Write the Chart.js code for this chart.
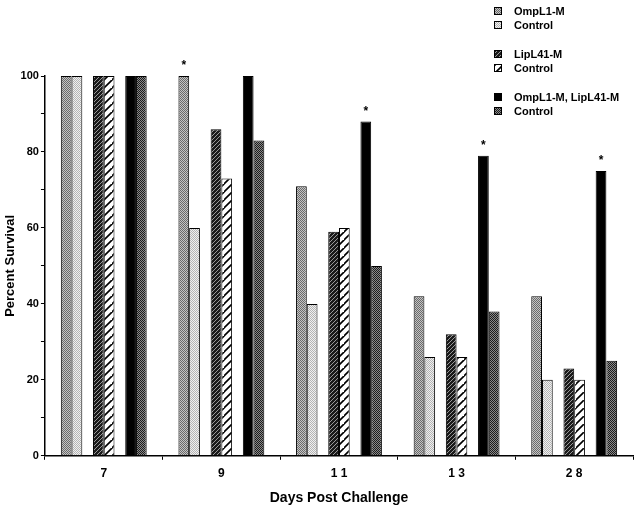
<!DOCTYPE html>
<html>
<head>
<meta charset="utf-8">
<script src="https://cdn.jsdelivr.net/npm/chart.js@4"></script>
<style>
  html, body { margin: 0; padding: 0; background: #fff; }
  #wrap { width: 644px; height: 511px; }
</style>
</head>
<body>
<div id="wrap"><canvas id="survivalChart" width="644" height="511"></canvas></div>
<script>
const days = ["7", "9", "1 1", "1 3", "2 8"];
const ompl1 = [100, 100, 71, 42, 42];
const ompl1Control = [100, 60, 40, 26, 20];
const lipl41 = [100, 86, 59, 32, 23];
const lipl41Control = [100, 73, 60, 26, 20];
const combined = [100, 100, 88, 79, 75];
const combinedControl = [100, 83, 50, 38, 25];
const yTicks = [0, 20, 40, 60, 80, 100];
// [day index, series name] of the bars marked with *
const starred = [[1, "OmpL1-M"], [2, "OmpL1-M, LipL41-M"], [3, "OmpL1-M, LipL41-M"], [4, "OmpL1-M, LipL41-M"]];

const FONT = "'Liberation Sans', Arial, sans-serif";

function makePattern(size, draw) {
  const tile = document.createElement("canvas");
  tile.width = size;
  tile.height = size;
  const t = tile.getContext("2d");
  draw(t, size);
  return t.createPattern(tile, "repeat");
}

function checker(light, dark) {
  return makePattern(2, (t) => {
    t.fillStyle = light;
    t.fillRect(0, 0, 2, 2);
    t.fillStyle = dark;
    t.fillRect(0, 0, 1, 1);
    t.fillRect(1, 1, 1, 1);
  });
}

function hatch(bg, fg, size, width) {
  return makePattern(size, (t, s) => {
    t.fillStyle = bg;
    t.fillRect(0, 0, s, s);
    t.strokeStyle = fg;
    t.lineWidth = width;
    t.beginPath();
    t.moveTo(-1, s + 1);
    t.lineTo(s + 1, -1);
    t.moveTo(-s - 1, s + 1);
    t.lineTo(1, -1);
    t.moveTo(s - 1, 2 * s + 1);
    t.lineTo(2 * s + 1, s - 1);
    t.stroke();
  });
}

const fills = {
  ompl1: checker("#c4c4c4", "#6a6a6a"),
  ompl1Control: checker("#f0f0f0", "#b4b4b4"),
  lipl41: hatch("#1a1a1a", "#9a9a9a", 4, 1),
  lipl41Control: hatch("#ffffff", "#000000", 8, 1.6),
  combined: "#000000",
  combinedControl: checker("#8a8a8a", "#1c1c1c"),
};

function bars(label, data, fill) {
  return { label, data, backgroundColor: fill, borderColor: "#000", borderWidth: 1 };
}

function gap() {
  return { label: "", data: days.map(() => null), backgroundColor: "transparent", borderWidth: 0 };
}

const datasets = [
  bars("OmpL1-M", ompl1, fills.ompl1),
  bars("Control", ompl1Control, fills.ompl1Control),
  gap(),
  bars("LipL41-M", lipl41, fills.lipl41),
  bars("Control", lipl41Control, fills.lipl41Control),
  gap(),
  bars("OmpL1-M, LipL41-M", combined, fills.combined),
  bars("Control", combinedControl, fills.combinedControl),
];

const legendRows = [
  { index: 0, y: 11 },
  { index: 1, y: 25 },
  { index: 3, y: 54 },
  { index: 4, y: 68 },
  { index: 6, y: 97 },
  { index: 7, y: 111 },
];

const legendPlugin = {
  id: "groupedLegend",
  afterDraw(chart) {
    const ctx = chart.ctx;
    ctx.save();
    ctx.font = "bold 11px " + FONT;
    ctx.textBaseline = "middle";
    legendRows.forEach((row) => {
      const ds = chart.data.datasets[row.index];
      ctx.fillStyle = ds.backgroundColor;
      ctx.fillRect(494, row.y - 4, 8, 8);
      ctx.strokeStyle = "#000";
      ctx.lineWidth = 1;
      ctx.strokeRect(494.5, row.y - 3.5, 7, 7);
      ctx.fillStyle = "#000";
      ctx.fillText(ds.label, 514, row.y + 1);
    });
    ctx.restore();
  },
};

const starPlugin = {
  id: "stars",
  afterDatasetsDraw(chart) {
    const ctx = chart.ctx;
    ctx.save();
    ctx.font = "bold 12px " + FONT;
    ctx.fillStyle = "#000";
    ctx.textAlign = "center";
    ctx.textBaseline = "bottom";
    starred.forEach(([day, name]) => {
      const dsIndex = chart.data.datasets.findIndex((d) => d.label === name);
      const bar = chart.getDatasetMeta(dsIndex).data[day];
      ctx.fillText("*", bar.x, bar.y - 4);
    });
    ctx.restore();
  },
};

new Chart(document.getElementById("survivalChart"), {
  type: "bar",
  data: { labels: days, datasets },
  options: {
    responsive: false,
    animation: false,
    layout: { padding: { top: 76, right: 11, left: 3, bottom: 0 } },
    datasets: { bar: { categoryPercentage: 0.73, barPercentage: 1 } },
    plugins: { legend: { display: false }, tooltip: { enabled: false } },
    scales: {
      x: {
        grid: { display: true, drawOnChartArea: false, offset: true, tickLength: 4, color: "#000", tickColor: "#000" },
        border: { color: "#000", width: 1.5 },
        ticks: { color: "#000", padding: 7, font: { family: FONT, size: 12, weight: "bold" } },
        title: {
          display: true,
          text: "Days Post Challenge",
          color: "#000",
          padding: { top: 2, bottom: 4 },
          font: { family: FONT, size: 14, weight: "bold" },
        },
      },
      y: {
        min: 0,
        max: 100,
        grid: { drawOnChartArea: false, tickLength: 4, color: "#000", tickColor: "#000" },
        border: { color: "#000", width: 1.5 },
        ticks: {
          stepSize: 10,
          color: "#000",
          padding: 2,
          font: { family: FONT, size: 11, weight: "bold" },
          callback: (v) => (yTicks.includes(v) ? v : ""),
        },
        title: {
          display: true,
          text: "Percent Survival",
          color: "#000",
          padding: { top: 0, bottom: 0 },
          font: { family: FONT, size: 13, weight: "bold" },
        },
      },
    },
  },
  plugins: [starPlugin, legendPlugin],
});
</script>
</body>
</html>
